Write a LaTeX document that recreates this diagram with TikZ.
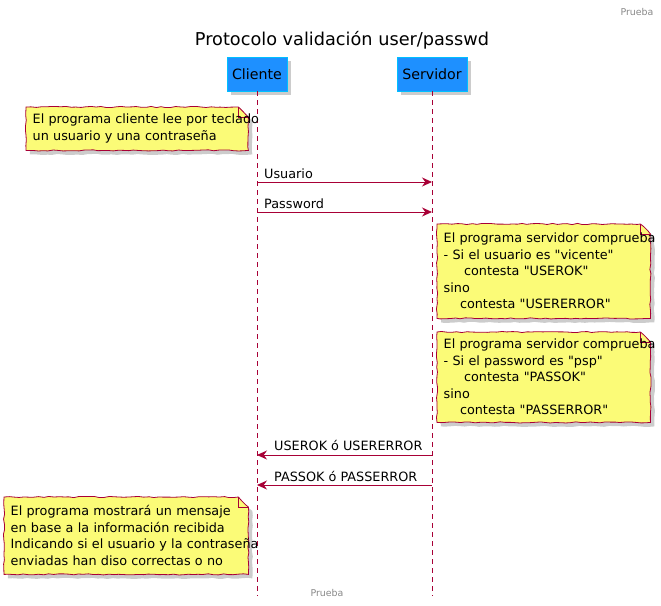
\documentclass[tikz,border=0pt]{standalone}
\usepackage{fontspec}
\setmainfont{DejaVu Sans}
\usepackage{tikz}
\usetikzlibrary{arrows.meta, shadows, backgrounds, decorations.pathmorphing}
\definecolor{umlred}{HTML}{A80036}
\definecolor{notefill}{HTML}{FBFB77}
\definecolor{partblue}{HTML}{1E90FF}
\definecolor{partline}{HTML}{00BFFF}
\definecolor{footgray}{HTML}{888888}
\newcommand{\qq}[1]{\textquotedbl#1\textquotedbl}

\begin{document}
\begin{tikzpicture}[x=1pt, y=-1pt,
  part/.style = {draw=partline, fill=partblue, inner xsep=5pt, minimum height=34pt, font=\fontsize{14.2}{17}\selectfont, drop shadow={opacity=0.4, shadow xshift=4pt, shadow yshift=-4pt}},
  life/.style = {draw=umlred, dash pattern=on 5pt off 4pt, line width=0.8pt},
  msg/.style = {draw=umlred, line width=0.9pt, -{Stealth[length=10pt, width=9pt]}},
  lbl/.style = {inner sep=0pt, anchor=base west, font=\fontsize{12.8}{16.5}\selectfont},
  note/.style = {anchor=north west, align=left, inner xsep=6.5pt, inner ysep=0pt, font=\fontsize{12.8}{16.5}\selectfont},
  notebg/.style = {draw=umlred, fill=notefill, line width=0.8pt, decorate, decoration={random steps, segment length=5pt, amplitude=0.6pt}, drop shadow={opacity=0.4, shadow xshift=4pt, shadow yshift=-4pt}},
  foot/.style = {text=footgray, font=\fontsize{9.4}{11}\selectfont}]
  \useasboundingbox (0,0) rectangle (661,605);
  \pgfmathsetseed{7}

  \node[foot] (hd) at (637,12) {Prueba};
  \node[font=\fontsize{17.7}{21}\selectfont] (ttl) at (342,40) {Protocolo validación user/passwd};

  % participants and lifelines
  \node[part] (cli) at (257,74) {Cliente};
  \node[part] (srv) at (432,74) {Servidor};
  \coordinate (cliend) at (257,596);
  \coordinate (srvend) at (432,596);
  \draw[life] (cli.south) -- (cliend);
  \draw[life] (srv.south) -- (srvend);

  % message ends on the lifelines
  \foreach \n/\y in {u/182, p/212, ru/455, rp/485} {
    \coordinate (c\n) at (257,\y);
    \coordinate (s\n) at (432,\y);
  }

  % notes
  \node[note, text width=209pt, minimum height=43pt] (n1) at (26,107) {\mbox{El programa cliente lee por teclado}\\un usuario y una contraseña};
  \node[note, text width=200pt, minimum height=94pt] (n2) at (437,224) {\mbox{El programa servidor comprueba}\\- Si el usuario es \qq{vicente}\\\hspace*{20.4pt}contesta \qq{USEROK}\\sino\\\hspace*{16.3pt}contesta \qq{USERERROR}};
  \node[note, text width=200pt, minimum height=90pt] (n3) at (437,332) {\mbox{El programa servidor comprueba}\\- Si el password es \qq{psp}\\\hspace*{20.4pt}contesta \qq{PASSOK}\\sino\\\hspace*{16.3pt}contesta \qq{PASSERROR}};
  \node[note, text width=231pt, minimum height=77pt] (n4) at (4,497) {El programa mostrará un mensaje\\en base a la información recibida\\\mbox{Indicando si el usuario y la contraseña}\\enviadas han diso correctas o no};
  \begin{scope}[on background layer]
    \foreach \n in {n1,n2,n3,n4} {
      \path[notebg] (\n.south west) -- (\n.north west) -- ([xshift=-10pt]\n.north east) -- ([yshift=-10pt]\n.north east) -- (\n.south east) -- cycle;
      \draw[umlred, line width=0.8pt] ([xshift=-10pt]\n.north east) -- ([xshift=-10pt,yshift=-10pt]\n.north east) -- ([yshift=-10pt]\n.north east);
    }
  \end{scope}

  % messages
  \draw[msg] (cu) -- (su);
  \node[lbl] (lu) at (264,178) {Usuario};
  \draw[msg] (cp) -- (sp);
  \node[lbl] (lp) at (264,208) {Password};
  \draw[msg] (sru) -- (cru);
  \node[lbl] (lru) at (274,450) {USEROK ó USERERROR};
  \draw[msg] (srp) -- (crp);
  \node[lbl] (lrp) at (274,481) {PASSOK ó PASSERROR};

  \node[foot] (ft) at (327,593) {Prueba};
\end{tikzpicture}
\end{document}
